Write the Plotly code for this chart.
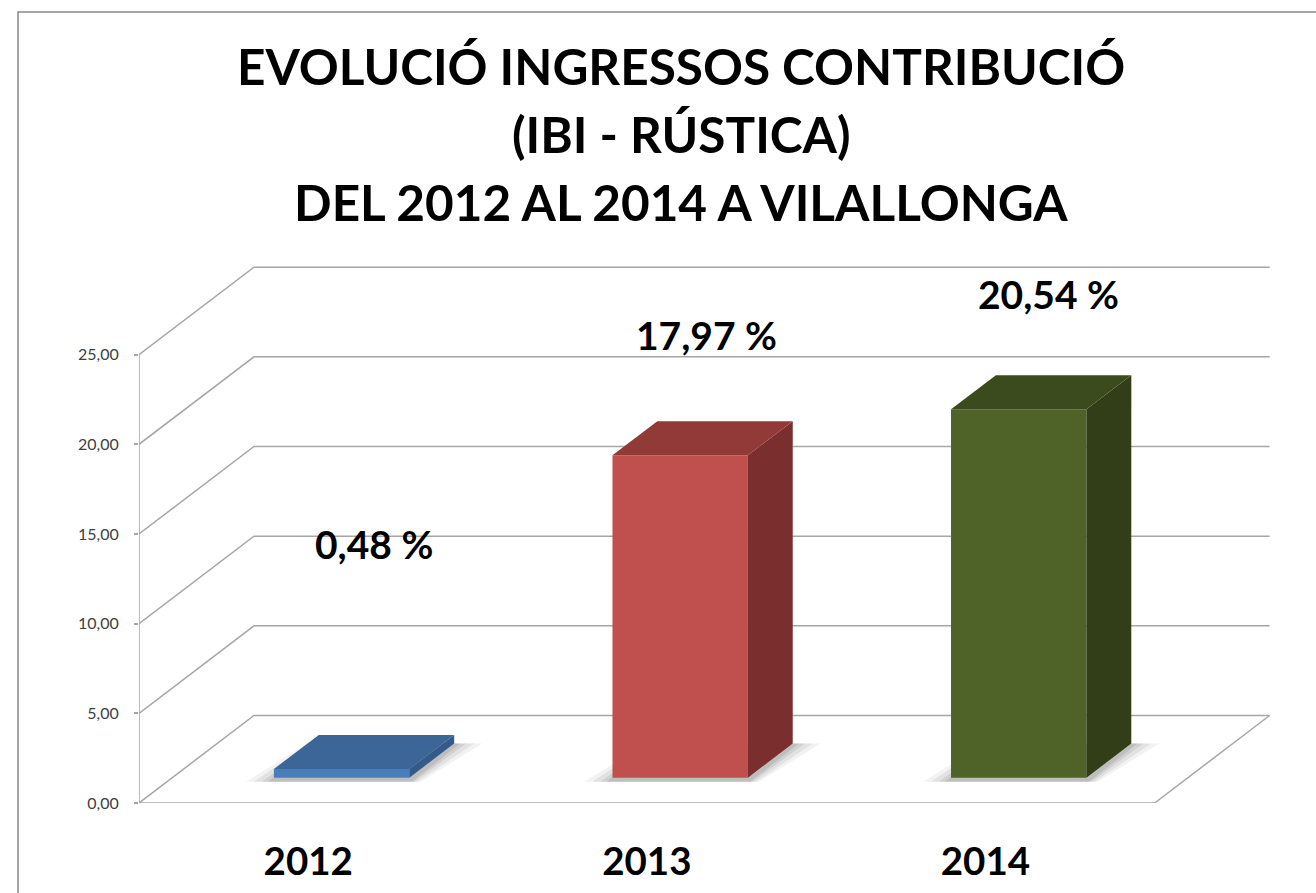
import plotly.graph_objects as go

# ---------------- data ----------------
YEARS = ["2012", "2013", "2014"]
VALUES = [0.48, 17.97, 20.54]
VALUE_LABELS = ["0,48 %", "17,97 %", "20,54 %"]
Y_TICKS = [0, 5, 10, 15, 20, 25]
Y_TICK_TEXT = ["0,00", "5,00", "10,00", "15,00", "20,00", "25,00"]
TITLE_LINES = ["EVOLUCIÓ INGRESSOS CONTRIBUCIÓ",
               "(IBI - RÚSTICA)",
               "DEL 2012 AL 2014 A VILALLONGA"]

# ---------------- style ----------------
FRONT = ["#4A7EBB", "#C0504D", "#4F6228"]
TOP = ["#3C6598", "#923A38", "#3C4B1E"]
SIDE = ["#345A8A", "#7A2F2E", "#313E18"]
GRID = "#A6A6A6"
FONT = "Lato"

W, H = 1316, 893
ML, MR, MT, MB = 139, 9, 256, 90
X_RANGE = [0, 3.45]
Y_RANGE = [0, 30.5]
PW, PH = W - ML - MR, H - MT - MB
SX = PW / (X_RANGE[1] - X_RANGE[0])   # px per x unit
SY = PH / (Y_RANGE[1] - Y_RANGE[0])   # px per y unit

# oblique depth of the 3-D box (in axis units)
DX = 115 / SX
DY = 87.5 / SY
D0, D1 = 0.29, 0.68          # bar depth range (fraction of floor depth)
HALF = 0.2                   # half bar width (category units)
NCAT = len(YEARS)
YMAX = Y_TICKS[-1]


def paper_x(p):
    return (p - ML) / PW


def paper_y(p):
    return (H - MB - p) / PH


fig = go.Figure()

# ---------------- walls / gridlines ----------------
gx, gy = [], []
for v in Y_TICKS:
    gx += [0, DX, NCAT + DX, None]
    gy += [v, v + DY, v + DY, None]
# floor front edge and right edge
gx += [0, NCAT, NCAT + DX, None]
gy += [0, 0, DY, None]
# y axis line
gx += [0, 0, None]
gy += [0, YMAX, None]
# category ticks below floor
tick = 14 / SY
for i in range(NCAT + 1):
    gx += [i, i, None]
    gy += [0, -tick, None]
fig.add_trace(go.Scatter(x=gx, y=gy, mode="lines",
                         line=dict(color=GRID, width=1.5),
                         hoverinfo="skip", cliponaxis=False, showlegend=False))

# ---------------- bars ----------------
ox0, oy0 = D0 * DX, D0 * DY
bdx, bdy = (D1 - D0) * DX, (D1 - D0) * DY

for i, v in enumerate(VALUES):
    xl = i + 0.5 - HALF + ox0
    xr = i + 0.5 + HALF + ox0
    yb = oy0
    yt = v + oy0
    # soft shadow on the floor
    for k, (ex, op) in enumerate([(28, 0.08), (20, 0.10), (12, 0.13), (6, 0.15)]):
        e = ex / SX
        ey = 4 / SY
        fig.add_trace(go.Scatter(
            x=[xl - e, xr + e * 0.4, xr + bdx + e, xl + bdx - e * 0.4, xl - e],
            y=[yb - ey, yb - ey, yb + bdy, yb + bdy, yb - ey],
            fill="toself", mode="none", fillcolor=f"rgba(90,90,90,{op})",
            hoverinfo="skip", showlegend=False))
    # front face
    fig.add_trace(go.Scatter(x=[xl, xr, xr, xl, xl], y=[yb, yb, yt, yt, yb],
                             fill="toself", mode="none", fillcolor=FRONT[i],
                             hoverinfo="skip", showlegend=False))
    # side face
    fig.add_trace(go.Scatter(x=[xr, xr + bdx, xr + bdx, xr, xr],
                             y=[yb, yb + bdy, yt + bdy, yt, yb],
                             fill="toself", mode="none", fillcolor=SIDE[i],
                             hoverinfo="skip", showlegend=False))
    # top face
    fig.add_trace(go.Scatter(x=[xl, xr, xr + bdx, xl + bdx, xl],
                             y=[yt, yt, yt + bdy, yt + bdy, yt],
                             fill="toself", mode="none", fillcolor=TOP[i],
                             hoverinfo="skip", showlegend=False))

# ---------------- value labels (manually placed as in the source) ----------------
LABEL_POS = [(0.694, 14.45), (1.677, 26.12), (2.686, 28.38)]
for (lx, ly), txt in zip(LABEL_POS, VALUE_LABELS):
    fig.add_annotation(x=lx, y=ly, xref="x", yref="y", text=f"<b>{txt}</b>",
                       showarrow=False, xanchor="center", yanchor="middle",
                       font=dict(family=FONT, size=39, color="#000000"))

# ---------------- title ----------------
TITLE_Y = [66, 134, 202]
for txt, ty in zip(TITLE_LINES, TITLE_Y):
    fig.add_annotation(x=paper_x(681), y=paper_y(ty), xref="paper", yref="paper",
                       text=f"<b>{txt}</b>", showarrow=False,
                       xanchor="center", yanchor="middle",
                       font=dict(family=FONT, size=49.5, color="#000000"))

# chart border
fig.add_shape(type="rect", xref="paper", yref="paper",
              x0=paper_x(18), x1=paper_x(1340), y0=paper_y(920), y1=paper_y(12),
              line=dict(color="#888888", width=1.5), fillcolor="rgba(0,0,0,0)")

fig.update_layout(
    width=W, height=H,
    margin=dict(l=ML, r=MR, t=MT, b=MB, autoexpand=False),
    paper_bgcolor="white", plot_bgcolor="white",
    showlegend=False,
    xaxis=dict(range=X_RANGE, showgrid=False, zeroline=False, showline=False,
               tickmode="array", tickvals=[i + 0.5 for i in range(NCAT)],
               ticktext=YEARS, ticks="", ticklabelstandoff=32,
               tickfont=dict(family=FONT, size=38.5, color="#000000", weight="bold"),
               fixedrange=True),
    yaxis=dict(range=Y_RANGE, showgrid=False, zeroline=False, showline=False,
               tickmode="array", tickvals=Y_TICKS, ticktext=Y_TICK_TEXT,
               ticks="outside", ticklen=4, tickcolor=GRID, tickwidth=1.5,
               ticklabelstandoff=12,
               tickfont=dict(family=FONT, size=16, color="#404040"),
               fixedrange=True),
)

fig.write_html("out.html", config={"displayModeBar": False},
               post_script="document.body.style.margin='0';")
